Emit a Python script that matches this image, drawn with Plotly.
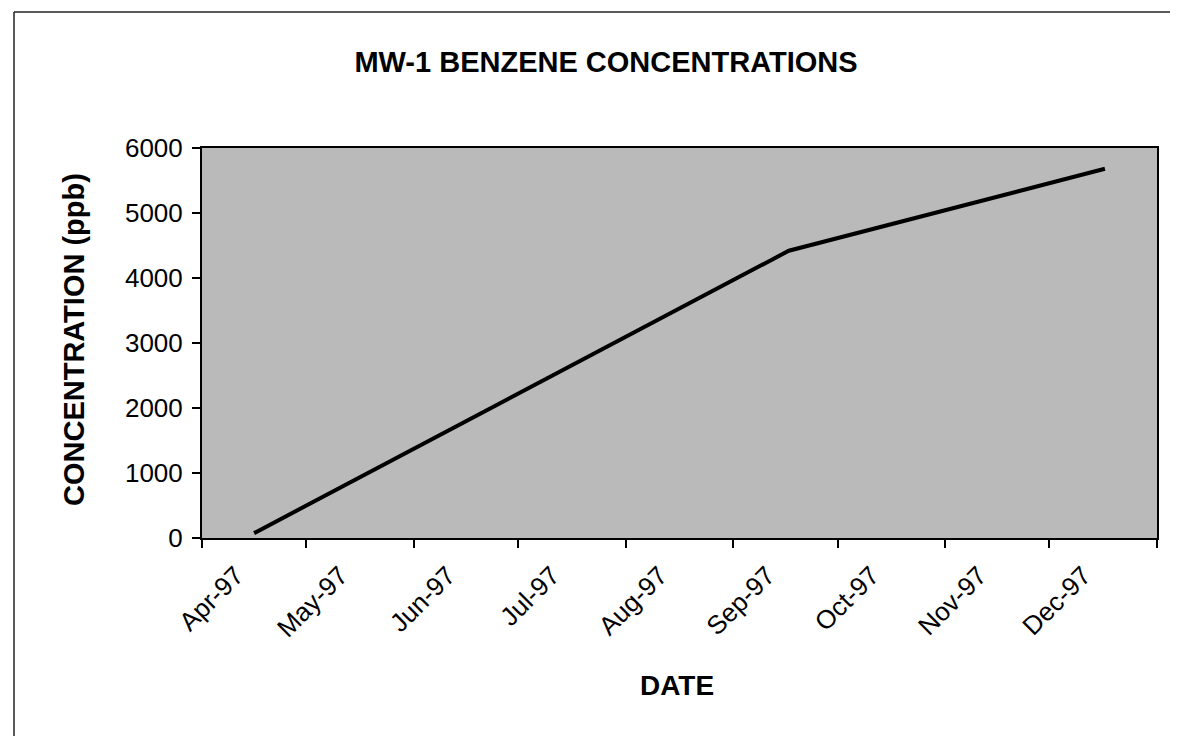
import plotly.graph_objects as go

# sample dates and benzene results for MW-1
SAMPLE_DATES = ["1997-04-16", "1997-09-17", "1997-12-17"]
BENZENE_PPB = [75, 4420, 5680]

# month ticks (Jan-98 tick drawn without label, as in the original)
MONTH_TICKS = ["1997-04-01", "1997-05-01", "1997-06-01", "1997-07-01", "1997-08-01",
               "1997-09-01", "1997-10-01", "1997-11-01", "1997-12-01", "1998-01-01"]
MONTH_LABELS = ["Apr-97", "May-97", "Jun-97", "Jul-97", "Aug-97",
                "Sep-97", "Oct-97", "Nov-97", "Dec-97", ""]
Y_TICKS = [0, 1000, 2000, 3000, 4000, 5000, 6000]

FONT = "Liberation Sans, Arial, sans-serif"
BG_GRAY = "#bababa"

fig = go.Figure()
fig.add_trace(go.Scatter(
    x=SAMPLE_DATES, y=BENZENE_PPB, mode="lines",
    line=dict(color="black", width=4),
    showlegend=False, hoverinfo="x+y",
))

fig.update_layout(
    width=1178, height=736,
    margin=dict(l=194, r=29, t=140, b=206),
    paper_bgcolor="white",
    plot_bgcolor=BG_GRAY,
    font=dict(family=FONT, color="black", size=26),
    title=dict(
        text="<b>MW-1 BENZENE CONCENTRATIONS</b>",
        font=dict(size=29, family=FONT, color="black"),
        x=598 / 1178, xref="container", xanchor="center",
        y=1 - 54 / 736, yref="container", yanchor="middle",
    ),
)

fig.update_xaxes(
    type="date",
    range=[MONTH_TICKS[0], MONTH_TICKS[-1]],
    tickmode="array", tickvals=MONTH_TICKS, ticktext=MONTH_LABELS,
    tickangle=-45, ticklabelshift=34, ticklabelstandoff=2,
    ticks="outside", ticklen=8, tickwidth=1.5, tickcolor="black",
    showline=True, linecolor="black", linewidth=2, mirror=True,
    showgrid=False, zeroline=False,
    tickfont=dict(size=26),
)
fig.update_yaxes(
    range=[0, 6000],
    tickmode="array", tickvals=Y_TICKS,
    ticks="outside", ticklen=8, tickwidth=1.5, tickcolor="black",
    ticklabelstandoff=4,
    showline=True, linecolor="black", linewidth=2, mirror=True,
    showgrid=False, zeroline=False,
    tickfont=dict(size=26),
)

# axis titles placed as annotations so they sit where the original has them
fig.add_annotation(
    text="<b>CONCENTRATION (ppb)</b>", textangle=-90,
    xref="paper", yref="paper", x=(66 - 194) / 955, y=(530 - 332) / 390,
    xanchor="center", yanchor="middle", showarrow=False,
    font=dict(size=29, family=FONT, color="black"),
)
fig.add_annotation(
    text="<b>DATE</b>",
    xref="paper", yref="paper", x=(669 - 194) / 955, y=(530 - 677) / 390,
    xanchor="center", yanchor="middle", showarrow=False,
    font=dict(size=28, family=FONT, color="black"),
)

# outer frame of the scanned chart (left, top and a piece of the bottom edge)
frame = dict(color="#222222", width=1.5)
fig.add_shape(type="line", xref="paper", yref="paper",
              x0=(6 - 194) / 955, x1=(6 - 194) / 955,
              y0=(530 - 734) / 390, y1=(530 - 4) / 390, line=frame)
fig.add_shape(type="line", xref="paper", yref="paper",
              x0=(6 - 194) / 955, x1=(1178 - 194) / 955,
              y0=(530 - 4) / 390, y1=(530 - 4) / 390, line=frame)
fig.add_shape(type="line", xref="paper", yref="paper",
              x0=(6 - 194) / 955, x1=(466 - 194) / 955,
              y0=(530 - 734) / 390, y1=(530 - 734) / 390, line=frame)

fig.write_html("out.html")
